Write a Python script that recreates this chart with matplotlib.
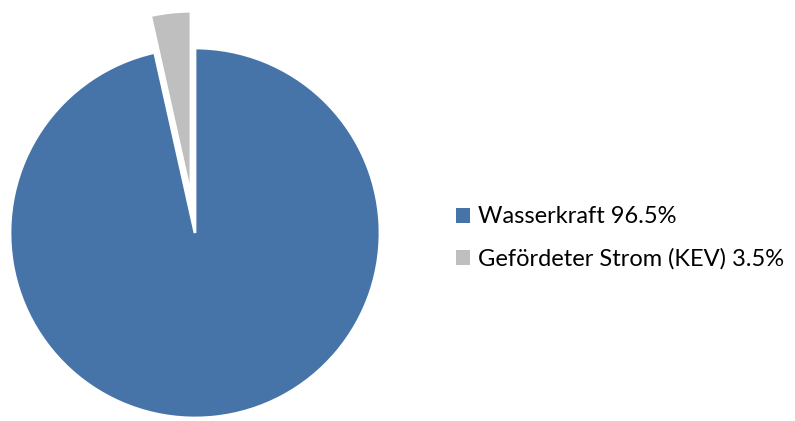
import matplotlib.pyplot as plt

categories = ['Wasserkraft', 'Gefördeter Strom (KEV)']
shares = [96.5, 3.5]
colors = ['#4674A9', '#BFBFBF']

plt.rcParams['font.family'] = ['Lato', 'DejaVu Sans']

fig = plt.figure(figsize=(7.95, 4.21), dpi=100)
ax = fig.add_axes([0, 0, 1, 1])

r = 185
wedges, _ = ax.pie(
    shares,
    colors=colors,
    startangle=90,
    counterclock=False,
    explode=[0, 0.2 * r],  # explode is in data units here
    center=(195, 188),
    radius=r,
    frame=False,
    wedgeprops=dict(edgecolor='white', linewidth=2),
)
ax.set_xlim(0, 795)
ax.set_ylim(0, 421)
ax.set_aspect('equal')
ax.axis('off')

labels = [f'{c} {v}%' for c, v in zip(categories, shares)]
leg = ax.legend(
    wedges, labels,
    loc='center left',
    bbox_to_anchor=(456 / 795, 1 - 238 / 421),
    frameon=False,
    fontsize=17,
    handlelength=0.6,
    handleheight=0.6,
    handletextpad=0.34,
    labelspacing=0.87,
    borderpad=0,
    borderaxespad=0,
)
for h in leg.legend_handles:
    h.set_edgecolor('none')

fig.savefig('out.png', dpi=100)
